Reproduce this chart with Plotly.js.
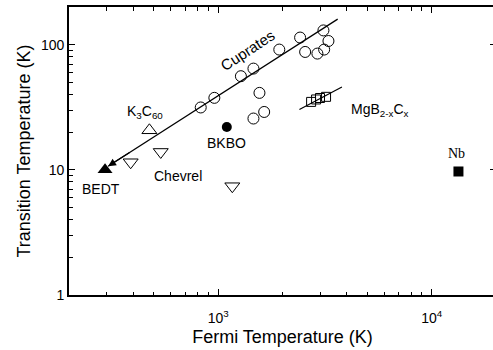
<!DOCTYPE html>
<html><head><meta charset="utf-8">
<script src="https://cdn.plot.ly/plotly-3.0.1.min.js"></script>
<style>html,body{margin:0;padding:0;overflow:hidden;background:#fff}#plot{width:498px;height:350px}</style>
</head><body><div id="plot"></div><script>
// ---- data (Fermi temperature K, transition temperature K) ----
var cupratesX = [828, 959, 1277, 1462, 1932, 2418, 3110, 3283, 3134, 2914, 2553, 1560, 1641, 1462];
var cupratesY = [31.5, 37.6, 56, 64.4, 91.4, 114, 130, 107, 91.4, 84.9, 87.5, 41.2, 29, 25.7];
var cuprateLineX = [305, 3626];
var cuprateLineY = [10.7, 160];
var mgbX = [2723, 2873, 2997, 3199];
var mgbY = [34.9, 36.5, 37.5, 38.3];
var mgbLineX = [2400, 3796];
var mgbLineY = [30.3, 45.9];
var bedtX = [295], bedtY = [10];
var k3c60X = [476], k3c60Y = [20.7];
var chevrelX = [389, 538, 1164];
var chevrelY = [11.5, 13.9, 7.4];
var bkboX = [1097], bkboY = [22];
var nbX = [13340], nbY = [9.7];

var xTickVals = [1000, 10000];
var xTickText = ['10<sup>3</sup>', '10<sup>4</sup>'];
var yTickVals = [1, 10, 100];
var yTickText = ['1', '10', '100'];

// labels: text, x value, y value
var labelTexts = ['Cuprates', 'K<sub>3</sub>C<sub>60</sub>', 'BKBO', 'BEDT', 'Chevrel', 'MgB<sub>2-x</sub>C<sub>x</sub>', 'Nb'];
var labelX = [1364, 454, 1099, 282, 648, 5724, 13130];
var labelY = [90.5, 28.9, 16.4, 7.03, 8.92, 30.0, 13.4];

// minor ticks every digit
function minorTicks(lo, hi) {
  var out = [];
  for (var d = 1; d <= 100000; d *= 10)
    for (var k = 2; k <= 9; k++) { var v = k * d; if (v > lo && v < hi) out.push(v); }
  return out;
}

var F = 'Liberation Sans, Arial, Helvetica, sans-serif';
var traces = [
  {x: cuprateLineX, y: cuprateLineY, mode: 'lines', line: {color: 'black', width: 1.2}},
  {x: mgbLineX, y: mgbLineY, mode: 'lines', line: {color: 'black', width: 1.2}},
  {x: cupratesX, y: cupratesY, mode: 'markers', marker: {symbol: 'circle-open', size: 11, color: 'black', line: {width: 1}}},
  {x: mgbX, y: mgbY, mode: 'markers', marker: {symbol: 'square-open', size: 9, color: 'black', line: {width: 1}}},
  {x: bedtX, y: bedtY, mode: 'markers', marker: {symbol: 'triangle-up', size: 13, color: 'black'}},
  {x: k3c60X, y: k3c60Y, mode: 'markers', marker: {symbol: 'triangle-up-open', size: 13, color: 'black', line: {width: 1}}},
  {x: chevrelX, y: chevrelY, mode: 'markers', marker: {symbol: 'triangle-down-open', size: 13, color: 'black', line: {width: 1}}},
  {x: bkboX, y: bkboY, mode: 'markers', marker: {symbol: 'circle', size: 10, color: 'black'}},
  {x: nbX, y: nbY, mode: 'markers', marker: {symbol: 'square', size: 10, color: 'black'}}
];

var ann = [];
for (var i = 0; i < labelTexts.length; i++) {
  ann.push({
    x: Math.log10(labelX[i]), y: Math.log10(labelY[i]), xref: 'x', yref: 'y',
    text: labelTexts[i], showarrow: false,
    textangle: i === 0 ? -33 : 0,
    font: {family: labelTexts[i] === 'Nb' ? 'Liberation Serif, Times New Roman, serif' : F, size: i === 0 ? 15 : 14, color: 'black'}
  });
}
// arrowhead at the low end of the cuprate line
var lx0 = Math.log10(cuprateLineX[0]), ly0 = Math.log10(cuprateLineY[0]);
var lx1 = Math.log10(cuprateLineX[1]), ly1 = Math.log10(cuprateLineY[1]);
ann.push({x: lx0, y: ly0, xref: 'x', yref: 'y', ax: lx0 + 0.1 * (lx1 - lx0), ay: ly0 + 0.1 * (ly1 - ly0),
  axref: 'x', ayref: 'y', text: '', showarrow: true, arrowhead: 2, arrowsize: 1.3, arrowwidth: 1.2, arrowcolor: 'black', standoff: 0});

var axisCommon = {
  type: 'log', showgrid: false, zeroline: false, showline: true, linecolor: 'black', linewidth: 1.8,
  mirror: 'ticks', ticks: 'inside', ticklen: 6, tickwidth: 1.3, tickcolor: 'black',
  tickfont: {family: F, size: 14, color: 'black'}
};
var layout = {
  width: 498, height: 350, showlegend: false,
  margin: {l: 69, r: 2, t: 7, b: 55},
  paper_bgcolor: 'white', plot_bgcolor: 'white',
  xaxis: Object.assign({}, axisCommon, {
    range: [Math.log10(200), Math.log10(20000)], tickmode: 'array', tickvals: xTickVals, ticktext: xTickText,
    ticklabelstandoff: 9,
    minor: {tickmode: 'array', tickvals: minorTicks(200, 20000), ticks: 'inside', ticklen: 3.5, tickwidth: 1, tickcolor: 'black'},
    title: {text: 'Fermi Temperature (K)', font: {family: F, size: 18, color: 'black'}, standoff: 6}
  }),
  yaxis: Object.assign({}, axisCommon, {
    range: [0, Math.log10(200)], tickmode: 'array', tickvals: yTickVals, ticktext: yTickText,
    minor: {tickmode: 'array', tickvals: minorTicks(1, 200), ticks: 'inside', ticklen: 3.5, tickwidth: 1, tickcolor: 'black'},
    title: {text: 'Transition Temperature (K)', font: {family: F, size: 18, color: 'black'}, standoff: 6}
  }),
  annotations: ann
};
Plotly.newPlot('plot', traces, layout, {displayModeBar: false, staticPlot: true});
</script></body></html>
